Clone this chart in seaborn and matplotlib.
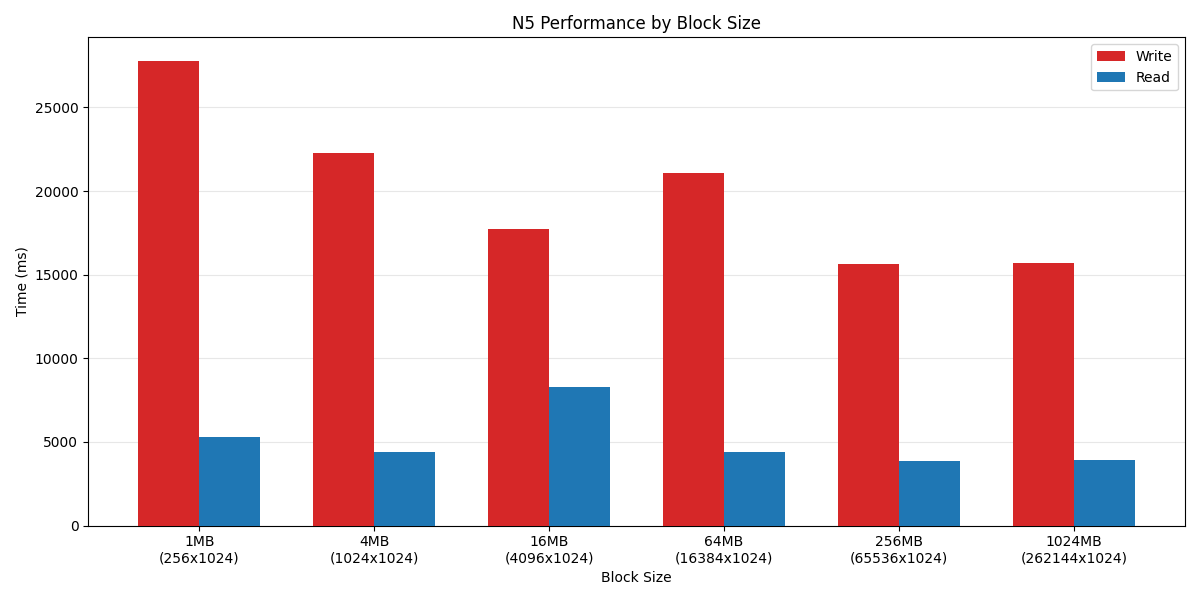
import matplotlib
matplotlib.use("Agg")
import matplotlib.pyplot as plt
import seaborn as sns
import pandas as pd

categories = ["1MB\n(256x1024)", "4MB\n(1024x1024)", "16MB\n(4096x1024)",
              "64MB\n(16384x1024)", "256MB\n(65536x1024)", "1024MB\n(262144x1024)"]
write_ms = [27800, 22260, 17740, 21070, 15650, 15710]
read_ms = [5300, 4400, 8270, 4400, 3870, 3930]

df = pd.DataFrame({
    "Block Size": categories * 2,
    "Time (ms)": write_ms + read_ms,
    "Op": ["Write"] * len(categories) + ["Read"] * len(categories),
})

fig, ax = plt.subplots(figsize=(12, 6), dpi=100)
sns.barplot(data=df, x="Block Size", y="Time (ms)", hue="Op",
            palette={"Write": "#d62728", "Read": "#1f77b4"},
            width=0.7, saturation=1, ax=ax, zorder=3)
n = len(categories)
span = (n - 1) + 0.7
ax.set_xlim(-0.35 - 0.05 * span, n - 1 + 0.35 + 0.05 * span)
ax.grid(axis="y", alpha=0.3, zorder=0)
ax.set_axisbelow(True)
ax.set_title("N5 Performance by Block Size")
ax.set_xlabel("Block Size")
ax.set_ylabel("Time (ms)")
ax.legend(title=None, loc="upper right")
fig.tight_layout()
fig.savefig("out.png")
